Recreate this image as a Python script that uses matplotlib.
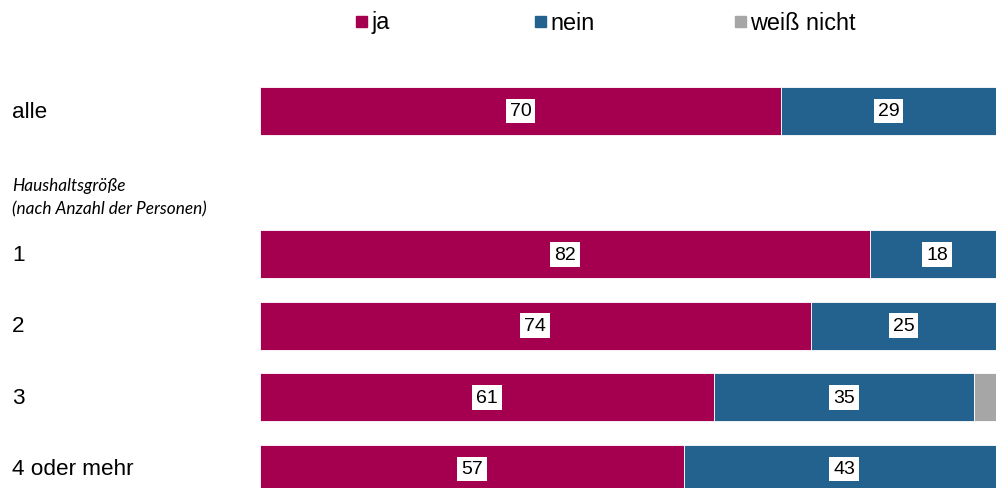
import matplotlib.pyplot as plt
from matplotlib.patches import Rectangle

# Anteile in Prozent
gruppen = ["alle", "1", "2", "3", "4 oder mehr"]
ja = [70, 82, 74, 61, 57]
nein = [29, 18, 25, 35, 43]
weiss_nicht = [1, 0, 1, 4, 0]
legende = ["ja", "nein", "weiß nicht"]

farben = ["#A5004F", "#23618F", "#A6A6A6"]

plt.rcParams['font.family'] = ['Liberation Sans', 'DejaVu Sans']

fig = plt.figure(figsize=(9.96, 4.89), dpi=100)
W, H = 996, 489
# Achse läuft bis 100 % etwas über den rechten Bildrand hinaus
ax = fig.add_axes([260 / W, 0, 744 / W, 1])

# Zeilenpositionen: "alle", Leerzeile für Überschrift, dann Haushaltsgrößen
pos = [0, 2, 3, 4, 5]
hoehe = 0.67

links = [0] * len(gruppen)
for werte, farbe in zip([ja, nein, weiss_nicht], farben):
    ax.barh(pos, werte, left=links, height=hoehe, color=farbe,
            edgecolor="white", linewidth=0.6)
    links = [l + w for l, w in zip(links, werte)]

# Wertelabels in weißen Kästchen (nur ja / nein)
for p, a, n in zip(pos, ja, nein):
    for x, v in [(a / 2, a), (a + n / 2, n)]:
        ax.text(x, p, str(v), ha="center", va="center", fontsize=14,
                color="black",
                bbox=dict(boxstyle="square,pad=0.2", fc="white", ec="none"))

ax.set_xlim(0, 100)
ax.set_ylim((H - 112) / 71.6, -112 / 71.6)
ax.axis("off")

# Zeilenbeschriftungen links
for p, g in zip(pos, gruppen):
    y = 1 - (112 + 71.6 * p) / H
    fig.text(12 / W, y, g, ha="left", va="center", fontsize=16.2)

fig.text(12 / W, 1 - 186 / H, "Haushaltsgröße", ha="left", va="center",
         fontsize=12.4, style="italic", family=["Lato", "DejaVu Sans"])
fig.text(12 / W, 1 - 209 / H, "(nach Anzahl der Personen)", ha="left",
         va="center", fontsize=12.4, style="italic",
         family=["Lato", "DejaVu Sans"])

# Legende oben
leg_x = [356, 535, 735]
for x, name, farbe in zip(leg_x, legende, farben):
    fig.patches.append(Rectangle((x / W, 1 - 28 / H), 11 / W, 11 / H,
                                 transform=fig.transFigure, color=farbe))
    fig.text((x + 15) / W, 1 - 23 / H, name, ha="left", va="center",
             fontsize=16.8)

fig.savefig("out.png", dpi=100)
